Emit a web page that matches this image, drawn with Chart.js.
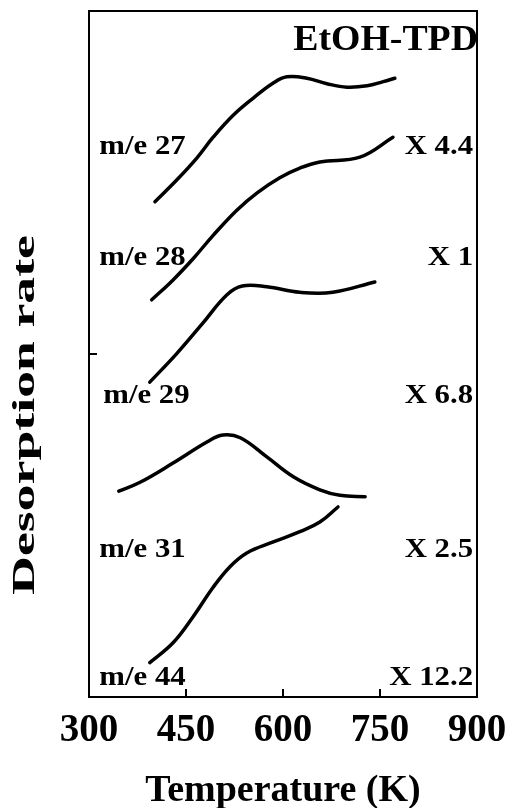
<!DOCTYPE html>
<html lang="en">
<head>
  <meta charset="UTF-8">
  <title>EtOH-TPD</title>
  <style>
    body {
      margin: 0;
      background: #fff;
    }
    #chart {
      display: block;
    }
  </style>
  <script src="https://cdn.jsdelivr.net/npm/chart.js"></script>
</head>
<body>
  <canvas id="chart" width="508" height="808"></canvas>

  <script>
    // traces (temperature in K, rate in arbitrary units 0-100)
    const temp27 = [402, 436, 467, 492, 523, 554, 585, 606, 637, 668, 699, 730, 755, 773];
    const rate27 = [72.2, 75.4, 78.6, 81.6, 84.8, 87.3, 89.5, 90.4, 90.2, 89.4, 88.9, 89.1, 89.7, 90.2];

    const temp28 = [397, 430, 462, 492, 529, 560, 595, 626, 657, 719, 770];
    const rate28 = [57.9, 60.8, 64.0, 67.3, 71.0, 73.5, 75.7, 77.1, 78.0, 78.7, 81.6];

    const temp29 = [394, 436, 476, 513, 537, 575, 626, 677, 742];
    const rate29 = [45.9, 50.1, 54.5, 58.6, 59.9, 59.8, 59.0, 59.0, 60.5];

    const temp31 = [346, 379, 430, 483, 507, 534, 575, 616, 657, 688, 727];
    const rate31 = [30.0, 31.3, 34.1, 37.2, 38.2, 37.8, 35.0, 32.1, 30.2, 29.4, 29.2];

    const temp44 = [394, 430, 461, 492, 518, 544, 585, 626, 657, 685];
    const rate44 = [5.0, 7.9, 11.7, 16.0, 19.0, 21.0, 22.6, 24.1, 25.5, 27.7];

    const xTicks = [300, 450, 600, 750, 900];
    const massLabels = ['m/e 27', 'm/e 28', 'm/e 29', 'm/e 31', 'm/e 44'];
    const factorLabels = ['X 4.4', 'X 1', 'X 6.8', 'X 2.5', 'X 12.2'];

    const toPoints = (xs, ys) => xs.map((x, i) => ({ x: x, y: ys[i] }));

    const serif = '"Liberation Serif", "Times New Roman", serif';

    const trace = (xs, ys) => ({
      data: toPoints(xs, ys),
      borderColor: '#000',
      borderWidth: 3.5,
      borderCapStyle: 'round',
      pointRadius: 0,
      tension: 0.4,
      fill: false
    });

    // draws text squeezed/stretched horizontally like the scanned figure
    const stretchText = (ctx, text, x, y, sx, align) => {
      ctx.save();
      ctx.translate(x, y);
      ctx.scale(sx, 1);
      ctx.textAlign = align;
      ctx.textBaseline = 'middle';
      ctx.fillText(text, 0, 0);
      ctx.restore();
    };

    const decorations = {
      id: 'decorations',
      afterDraw(chart) {
        const ctx = chart.ctx;
        const area = chart.chartArea;
        const xs = chart.scales.x;
        const ys = chart.scales.y;

        ctx.save();
        ctx.strokeStyle = '#000';
        ctx.lineWidth = 2;
        ctx.strokeRect(area.left, area.top, area.right - area.left, area.bottom - area.top);

        // inward tick marks
        ctx.beginPath();
        [450, 600, 750].forEach((t) => {
          const px = xs.getPixelForValue(t);
          ctx.moveTo(px, area.bottom);
          ctx.lineTo(px, area.bottom - 8);
        });
        const py = ys.getPixelForValue(50);
        ctx.moveTo(area.left, py);
        ctx.lineTo(area.left + 8, py);
        ctx.stroke();

        ctx.fillStyle = '#000';

        // curve labels
        const levels = [80.2, 64.1, 43.9, 21.4, 2.8];
        ctx.font = 'bold 28px ' + serif;
        massLabels.forEach((txt, i) => {
          const lx = xs.getPixelForValue(i === 2 ? 322 : 316);
          stretchText(ctx, txt, lx, ys.getPixelForValue(levels[i]), 1.1, 'left');
        });
        factorLabels.forEach((txt, i) => {
          stretchText(ctx, txt, xs.getPixelForValue(894), ys.getPixelForValue(levels[i]), 1.1, 'right');
        });

        ctx.font = 'bold 35px ' + serif;
        stretchText(ctx, 'EtOH-TPD', xs.getPixelForValue(900) + 1, ys.getPixelForValue(95.6), 1.08, 'right');

        // y axis title
        ctx.save();
        ctx.translate(26, 415);
        ctx.rotate(-Math.PI / 2);
        ctx.font = 'bold 32px ' + serif;
        stretchText(ctx, 'Desorption rate', 0, 0, 1.68, 'center');
        ctx.restore();

        ctx.restore();
      }
    };

    const ctx = document.getElementById('chart').getContext('2d');
    const chart = new Chart(ctx, {
      type: 'line',
      data: {
        datasets: [
          trace(temp27, rate27),
          trace(temp28, rate28),
          trace(temp29, rate29),
          trace(temp31, rate31),
          trace(temp44, rate44)
        ]
      },
      options: {
        responsive: false,
        animation: false,
        layout: {
          padding: { top: 11, right: 31, left: 0, bottom: 0 }
        },
        plugins: {
          legend: { display: false },
          tooltip: { enabled: false }
        },
        scales: {
          x: {
            type: 'linear',
            min: 300,
            max: 900,
            afterBuildTicks: (scale) => {
              scale.ticks = xTicks.map((v) => ({ value: v }));
            },
            grid: { display: false },
            border: { display: false },
            ticks: {
              color: '#000',
              padding: 3,
              maxRotation: 0,
              autoSkip: false,
              font: { family: serif, size: 39, weight: 'bold' }
            },
            title: {
              display: true,
              text: 'Temperature (K)',
              color: '#000',
              padding: { top: 0, bottom: -2 },
              font: { family: serif, size: 38, weight: 'bold', lineHeight: 1 }
            },
            afterFit: (scale) => {
              scale.height = 111;
              scale.paddingLeft = 0;
              scale.paddingRight = 0;
            }
          },
          y: {
            type: 'linear',
            min: 0,
            max: 100,
            grid: { display: false },
            border: { display: false },
            ticks: { display: false },
            afterFit: (scale) => {
              scale.width = 89;
            }
          }
        }
      },
      plugins: [decorations]
    });
  </script>
</body>
</html>
